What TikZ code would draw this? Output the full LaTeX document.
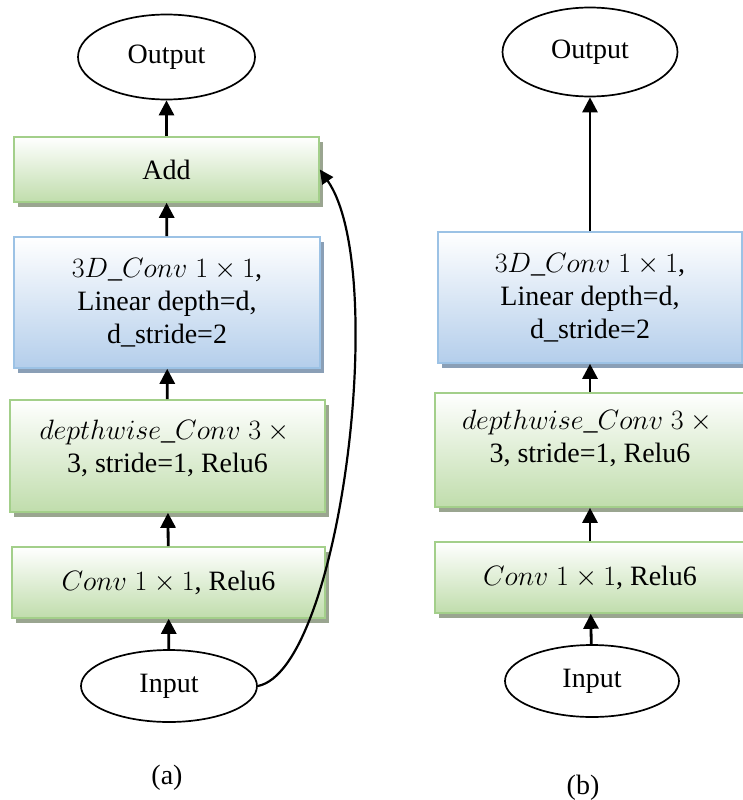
\RequirePackage{fix-cm}
\documentclass[tikz,border=0pt]{standalone}
\usepackage{amsmath}
\usepackage{fontspec}
\setmainfont{Liberation Serif}
\usetikzlibrary{shapes.geometric,arrows.meta,shadows}

\definecolor{gborder}{HTML}{A3CF8A}
\definecolor{gfill}{HTML}{C0DDAC}
\definecolor{gshadow}{HTML}{9AA590}
\definecolor{bborder}{HTML}{9CC2E5}
\definecolor{bfill}{HTML}{B4CEEB}
\definecolor{bshadow}{HTML}{8A9FB6}

\tikzset{
  every node/.style={font=\fontsize{28}{33}\selectfont, inner sep=0pt, align=center},
  greenbox/.style={rectangle, draw=gborder, line width=1.6pt,
    top color=white, bottom color=gfill,
    general shadow={fill=gshadow, shadow xshift=4pt, shadow yshift=-5pt}},
  bluebox/.style={rectangle, draw=bborder, line width=1.6pt,
    top color=white, bottom color=bfill,
    general shadow={fill=bshadow, shadow xshift=4pt, shadow yshift=-5pt}},
  term/.style={ellipse, draw=black, line width=1.7pt, fill=white},
  flow/.style={line width=2.8pt, -{Triangle[length=15pt,width=15pt]}},
  skip/.style={line width=2.2pt, -{Triangle[length=14pt,width=13pt]}},
}

\begin{document}
\begin{tikzpicture}[x=1pt,y=-1pt]
\useasboundingbox (0,0) rectangle (742,800);

% ---- (a): block with residual connection ----
\node[term, minimum width=177, minimum height=85] (outa) at (166.5,57) {Output};
\node[greenbox, minimum width=305, minimum height=65] (adda) at (166.5,169.5) {Add};
\node[bluebox, minimum width=306, minimum height=131] (convda) at (167,302.5)
  {$3D\_Conv\;1\times 1$,\\ Linear depth=d,\\ d\_stride=2};
\node[greenbox, minimum width=315, minimum height=112] (dwa) at (167.5,456) {};
\node (dwat) at (167.5,448) {$depthwise\_Conv\;3\times{}$\\ 3, stride=1, Relu6};
\node[greenbox, minimum width=313, minimum height=71] (conva) at (168.5,582.5)
  {$Conv\;1\times 1$, Relu6};
\node[term, minimum width=176, minimum height=72] (ina) at (169,686) {Input};
\node (capa) at (167,778) {(a)};

\draw[flow] (ina) -- (conva);
\draw[flow] (conva) -- (dwa);
\draw[flow] (dwa) -- (convda);
\draw[flow] (convda) -- (adda);
\draw[flow] (adda) -- (outa);
\draw[skip] (ina.east) .. controls (340,670) and (390,270) .. (adda.east);

% ---- (b): block without residual connection ----
\node[term, minimum width=175, minimum height=89] (outb) at (590,52) {Output};
\node[bluebox, minimum width=304, minimum height=131] (convdb) at (590,297.5)
  {$3D\_Conv\;1\times 1$,\\ Linear depth=d,\\ d\_stride=2};
\node[greenbox, minimum width=310, minimum height=114] (dwb) at (590,450) {};
\node (dwbt) at (590,438) {$depthwise\_Conv\;3\times{}$\\ 3, stride=1, Relu6};
\node[greenbox, minimum width=310, minimum height=71] (convb) at (590,577.5)
  {$Conv\;1\times 1$, Relu6};
\node[term, minimum width=174, minimum height=72] (inb) at (592,681) {Input};
\node (capb) at (583,788) {(b)};

\draw[flow] (inb) -- (convb);
\draw[flow] (convb) -- (dwb);
\draw[flow] (dwb) -- (convdb);
\draw[flow] (convdb) -- (outb);
\end{tikzpicture}
\end{document}
